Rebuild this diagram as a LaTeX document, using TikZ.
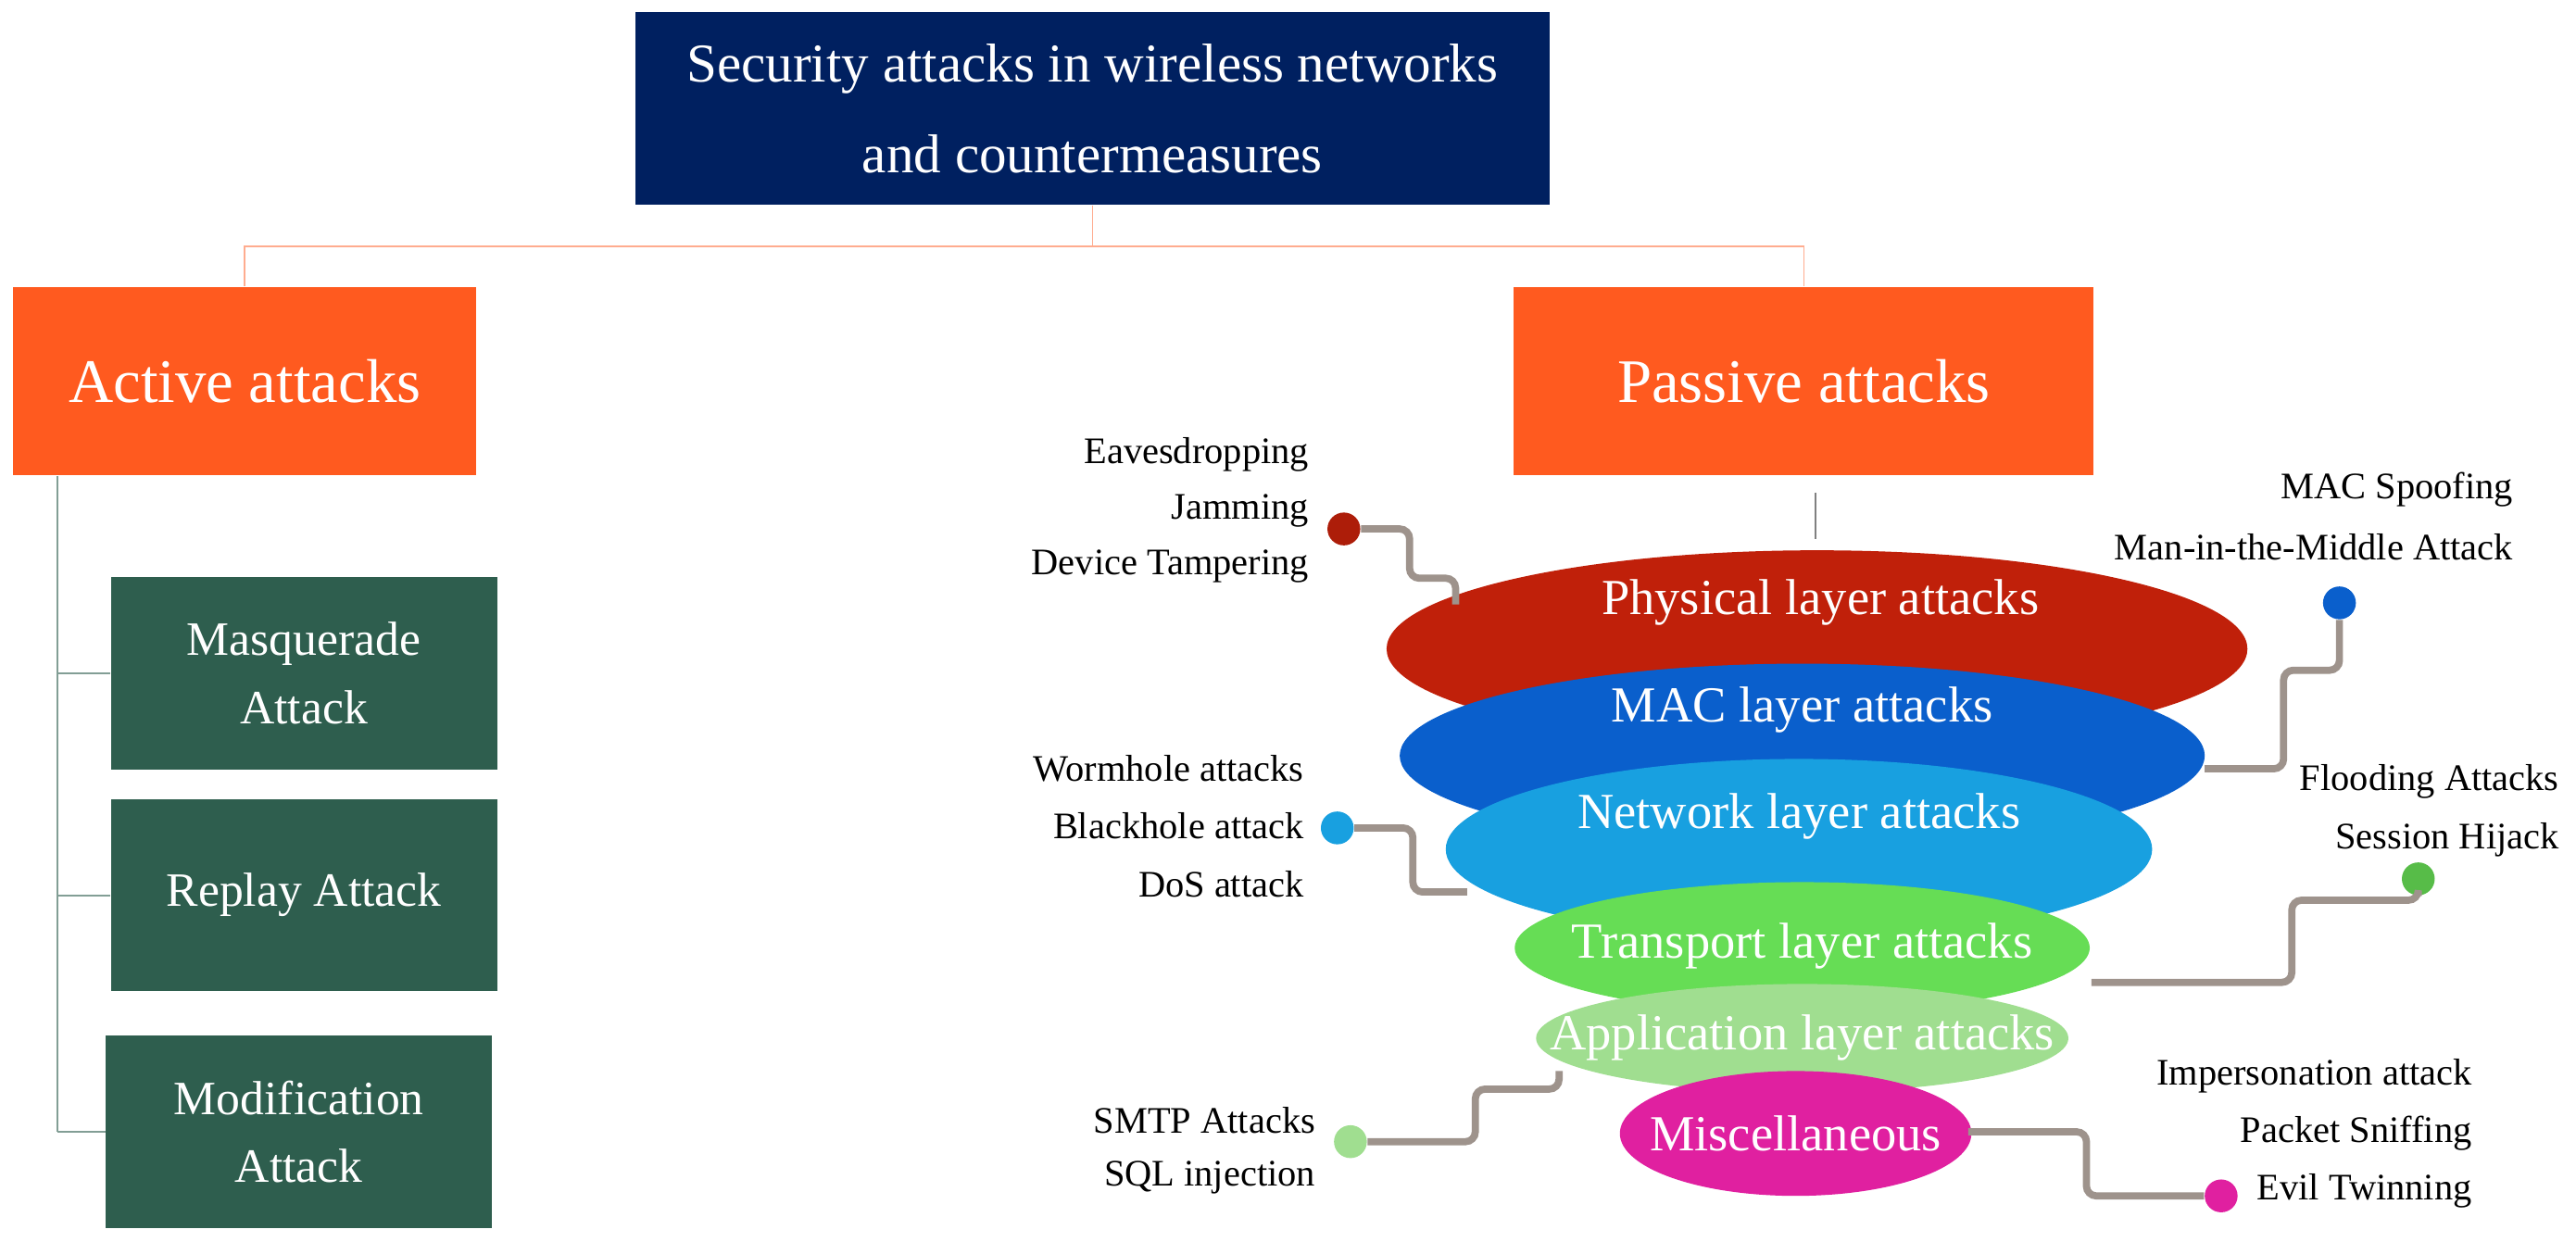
\documentclass[tikz,border=0pt]{standalone}
\usepackage{fontspec}
\setmainfont{Liberation Serif}
\usetikzlibrary{shapes.geometric}
\definecolor{navy}{HTML}{002060}
\definecolor{orng}{HTML}{FF5A1F}
\definecolor{dgreen}{HTML}{2E5E4E}
\definecolor{cred}{HTML}{C0200A}
\definecolor{cmac}{HTML}{0A5FCC}
\definecolor{cnet}{HTML}{18A0E0}
\definecolor{ctr}{HTML}{66DD55}
\definecolor{capp}{HTML}{A0DE90}
\definecolor{cmisc}{HTML}{E020A0}
\definecolor{lgray}{HTML}{9E938C}
\newdimen\uu \uu=0.017736cm
\begin{document}
\begin{tikzpicture}[x=\uu,y=-\uu,
  box/.style={draw=none,inner sep=0pt,align=center,text=white},
  ell/.style={ellipse,draw=none,inner sep=0pt,text=white,font=\fontsize{15.5}{17}\selectfont},
  lab/.style={font=\fontsize{11.5}{13}\selectfont,inner sep=0pt},
  dot/.style={circle,inner sep=0pt,minimum size=20\uu},
  conn/.style={draw=lgray,line width=2.2pt,rounded corners=3pt},
  tree/.style={draw=#1,line width=0.5pt}]
\useasboundingbox (0,0) rectangle (1568,756);
% title
\node[box,fill=navy,minimum width=557\uu,minimum height=117\uu,font=\fontsize{16.8}{28}\selectfont] (title) at (665,66) {Security attacks in wireless networks\\and countermeasures};
\node[box,fill=orng,minimum width=282\uu,minimum height=115\uu,font=\fontsize{19}{22}\selectfont] (act) at (149,232) {Active attacks};
\node[box,fill=orng,minimum width=353\uu,minimum height=115\uu,font=\fontsize{19}{22}\selectfont] (pas) at (1098,232) {Passive attacks};
\coordinate (tm) at (665,150);
\draw[tree={orng!50}] (title.south) -- (tm) -| (act.north);
\draw[tree={orng!50}] (tm) -| (pas.north);
% left boxes
\tikzset{gb/.style={box,fill=dgreen,minimum width=235\uu,minimum height=117\uu,font=\fontsize{14.7}{21}\selectfont}}
\node[gb] (m1) at (185,410) {Masquerade\\Attack};
\node[gb] (m2) at (185,545) {Replay Attack};
\node[gb] (m3) at (182,689) {Modification\\Attack};
\coordinate (t0) at (35,290);
\draw[tree={dgreen!60}] (t0) -- (35,689) coordinate (t3);
\draw[tree={dgreen!60}] (35,410) -- (m1.west);
\draw[tree={dgreen!60}] (35,545) -- (m2.west);
\draw[tree={dgreen!60}] (t3) -- (m3.west);
% ellipses
\draw[tree={gray}] (1105,300) -- (1105,328);
\node[ell,fill=cred,minimum width=524\uu,minimum height=120\uu] (phy) at (1106,395) {};
\node[ell,fill=cmac,minimum width=490\uu,minimum height=112\uu] (mac) at (1097,460) {};
\node[ell,fill=cnet,minimum width=430\uu,minimum height=110\uu] (net) at (1095,517) {};
\node[ell,fill=ctr,minimum width=350\uu,minimum height=80\uu] (tr) at (1097,577) {};
\node[ell,fill=capp,minimum width=324\uu,minimum height=66\uu] (app) at (1097,632) {};
\node[ell,fill=cmisc,minimum width=214\uu,minimum height=76\uu] (misc) at (1093,690) {};
\node[ell] at (1108,367) {Physical layer attacks};
\node[ell] at (1097,432) {MAC layer attacks};
\node[ell] at (1095,497) {Network layer attacks};
\node[ell] at (1097,576) {Transport layer attacks};
\node[ell] at (1097,632) {Application layer attacks};
\node[ell] at (1093,690) {Miscellaneous};
% connectors
\node[dot,fill=cred!90!black] (d1) at (818,322) {};
\draw[conn] (d1) -- (858,322) -- (858,352) -- (886,352) -- (886,368);
\node[dot,fill=cmac] (d2) at (1424,367) {};
\draw[conn] (d2) -- (1424,408) -- (1390,408) -- (1390,468) -- (1342,468);
\node[dot,fill=cnet] (d3) at (814,504) {};
\draw[conn] (d3) -- (860,504) -- (860,543) -- (893,543);
\node[dot,fill=ctr!85!black] (d4) at (1472,535) {};
\draw[conn] (d4) -- (1472,548) -- (1395,548) -- (1395,598) -- (1273,598);
\node[dot,fill=capp] (d5) at (822,695) {};
\draw[conn] (d5) -- (898,695) -- (898,663) -- (949,663) -- (949,652);
\node[dot,fill=cmisc] (d6) at (1352,728) {};
\draw[conn] (d6) -- (1270,728) -- (1270,689) -- (1198,689);
% labels
\node[lab,anchor=east] (l1) at (797,277) {Eavesdropping};
\node[lab,anchor=east] (l2) at (797,311) {Jamming};
\node[lab,anchor=east] (l3) at (797,345) {Device Tampering};
\node[lab,anchor=east] (l4) at (1530,298) {MAC Spoofing};
\node[lab,anchor=east] (l5) at (1530,333) {Man-in-the-Middle Attack};
\node[lab,anchor=east] (l6) at (794,468) {Wormhole attacks};
\node[lab,anchor=east] (l7) at (794,503) {Blackhole attack};
\node[lab,anchor=east] (l8) at (794,538) {DoS attack};
\node[lab,anchor=east] (l9) at (1558,476) {Flooding Attacks};
\node[lab,anchor=east] (l10) at (1558,511) {Session Hijack};
\node[lab,anchor=east] (l11) at (801,682) {SMTP Attacks};
\node[lab,anchor=east] (l12) at (801,717) {SQL injection};
\node[lab,anchor=east] (l13) at (1505,655) {Impersonation attack};
\node[lab,anchor=east] (l14) at (1505,690) {Packet Sniffing};
\node[lab,anchor=east] (l15) at (1505,725) {Evil Twinning};
\end{tikzpicture}
\end{document}
